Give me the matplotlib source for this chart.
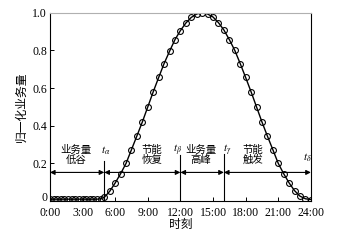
import matplotlib
matplotlib.use("Agg")
import matplotlib.pyplot as plt
import matplotlib.transforms as mtransforms

plt.rcParams['font.family'] = ['Liberation Serif', 'Noto Sans CJK SC']
plt.rcParams['mathtext.fontset'] = 'stix'

# 归一化业务量
t = [0, 0.33, 0.67, 1.0, 1.33, 1.67, 2.0, 2.33, 2.67, 3.0, 3.33, 3.67, 4.0, 4.33, 4.67,
     5.0, 5.5, 6.0, 6.5, 7.0, 7.5, 8.0, 8.5, 9.0, 9.5, 10.0, 10.5, 11.0, 11.5, 12.0,
     12.5, 13.0, 13.5, 14.0, 14.5, 15.0, 15.5, 16.0, 16.5, 17.0, 17.5, 18.0, 18.5,
     19.0, 19.5, 20.0, 20.5, 21.0, 21.5, 22.0, 22.5, 23.0, 23.5, 24.0]
load = [0.01, 0.01, 0.01, 0.01, 0.01, 0.01, 0.01, 0.01, 0.01, 0.01, 0.01, 0.01, 0.01, 0.01, 0.012,
        0.02, 0.052, 0.096, 0.145, 0.2, 0.273, 0.346, 0.42, 0.5, 0.58, 0.656, 0.73, 0.795, 0.857, 0.905,
        0.945, 0.975, 0.993, 1.0, 0.993, 0.977, 0.947, 0.908, 0.857, 0.8, 0.73, 0.656, 0.58,
        0.5, 0.42, 0.345, 0.273, 0.2, 0.145, 0.096, 0.055, 0.026, 0.012, 0.008]

xticks = [0, 3, 6, 9, 12, 15, 18, 21, 24]
xlabels = ["0:00", "3:00", "6:00", "9:00", "12:00", "15:00", "18:00", "21:00", "24:00"]
yticks = [0, 0.2, 0.4, 0.6, 0.8, 1.0]
ylabels = ["0", "0.2", "0.4", "0.6", "0.8", "1.0"]

bounds = [0, 5, 12, 16, 24]
bnames = [r"$t_\alpha$", r"$t_\beta$", r"$t_\gamma$", r"$t_\delta$"]
phases = ["业务量\n低谷", "节能\n恢复", "业务量\n高峰", "节能\n触发"]
phase_x = [2.4, 9.4, 13.9, 18.7]

fig = plt.figure(figsize=(3.42, 2.44), dpi=100)
ax = fig.add_axes([0.146, 0.176, 0.763, 0.772])

ax.plot(t, load, color='k', lw=1.0, marker='o', ms=4.2, mfc='none', mec='k', mew=0.8)

# 阶段分界线
vl_top = [0.21, 0.245, 0.25]
for b, h in zip(bounds[1:4], vl_top):
    ax.plot([b, b], [0, h], color='k', lw=0.8)
lab_dx = [0.15, -0.25, 0.3, -0.35]
lab_y = [0.265, 0.27, 0.27, 0.23]
for b, n, dx, yy in zip(bounds[1:], bnames, lab_dx, lab_y):
    ax.text(b + dx, yy, n, ha='center', va='center', fontsize=8)

# 双向箭头
for a, b in zip(bounds[:-1], bounds[1:]):
    ax.annotate("", xy=(b, 0.152), xytext=(a, 0.152),
                arrowprops=dict(arrowstyle='<|-|>', color='k', lw=0.8,
                                mutation_scale=7, shrinkA=0, shrinkB=0))

for x, s in zip(phase_x, phases):
    ax.text(x, 0.245, s, ha='center', va='center', fontsize=7.5, linespacing=1.05)

ax.set_xlim(0, 24)
ax.set_ylim(0, 1.0)
ax.set_xticks(xticks)
ax.set_xticklabels(xlabels)
ax.set_yticks(yticks)
ax.set_yticklabels(ylabels)
ax.tick_params(direction='in', length=3, width=0.7, labelsize=8.5, pad=2)
ax.tick_params(axis='x', pad=4)
# "0" 稍微上移, 避免与 "0:00" 重叠
lab0 = ax.get_yticklabels()[0]
lab0.set_transform(lab0.get_transform() +
                   mtransforms.ScaledTranslation(0, 3 / 72, fig.dpi_scale_trans))
ax.spines['top'].set_color('#b0b0b0')
for s in ['left', 'bottom', 'right']:
    ax.spines[s].set_color('k')
    ax.spines[s].set_linewidth(0.8)
ax.set_xlabel("时刻", fontsize=8.5, labelpad=0)
ax.set_ylabel("归一化业务量", fontsize=8.5, labelpad=3)

fig.savefig("out.png", dpi=100)
